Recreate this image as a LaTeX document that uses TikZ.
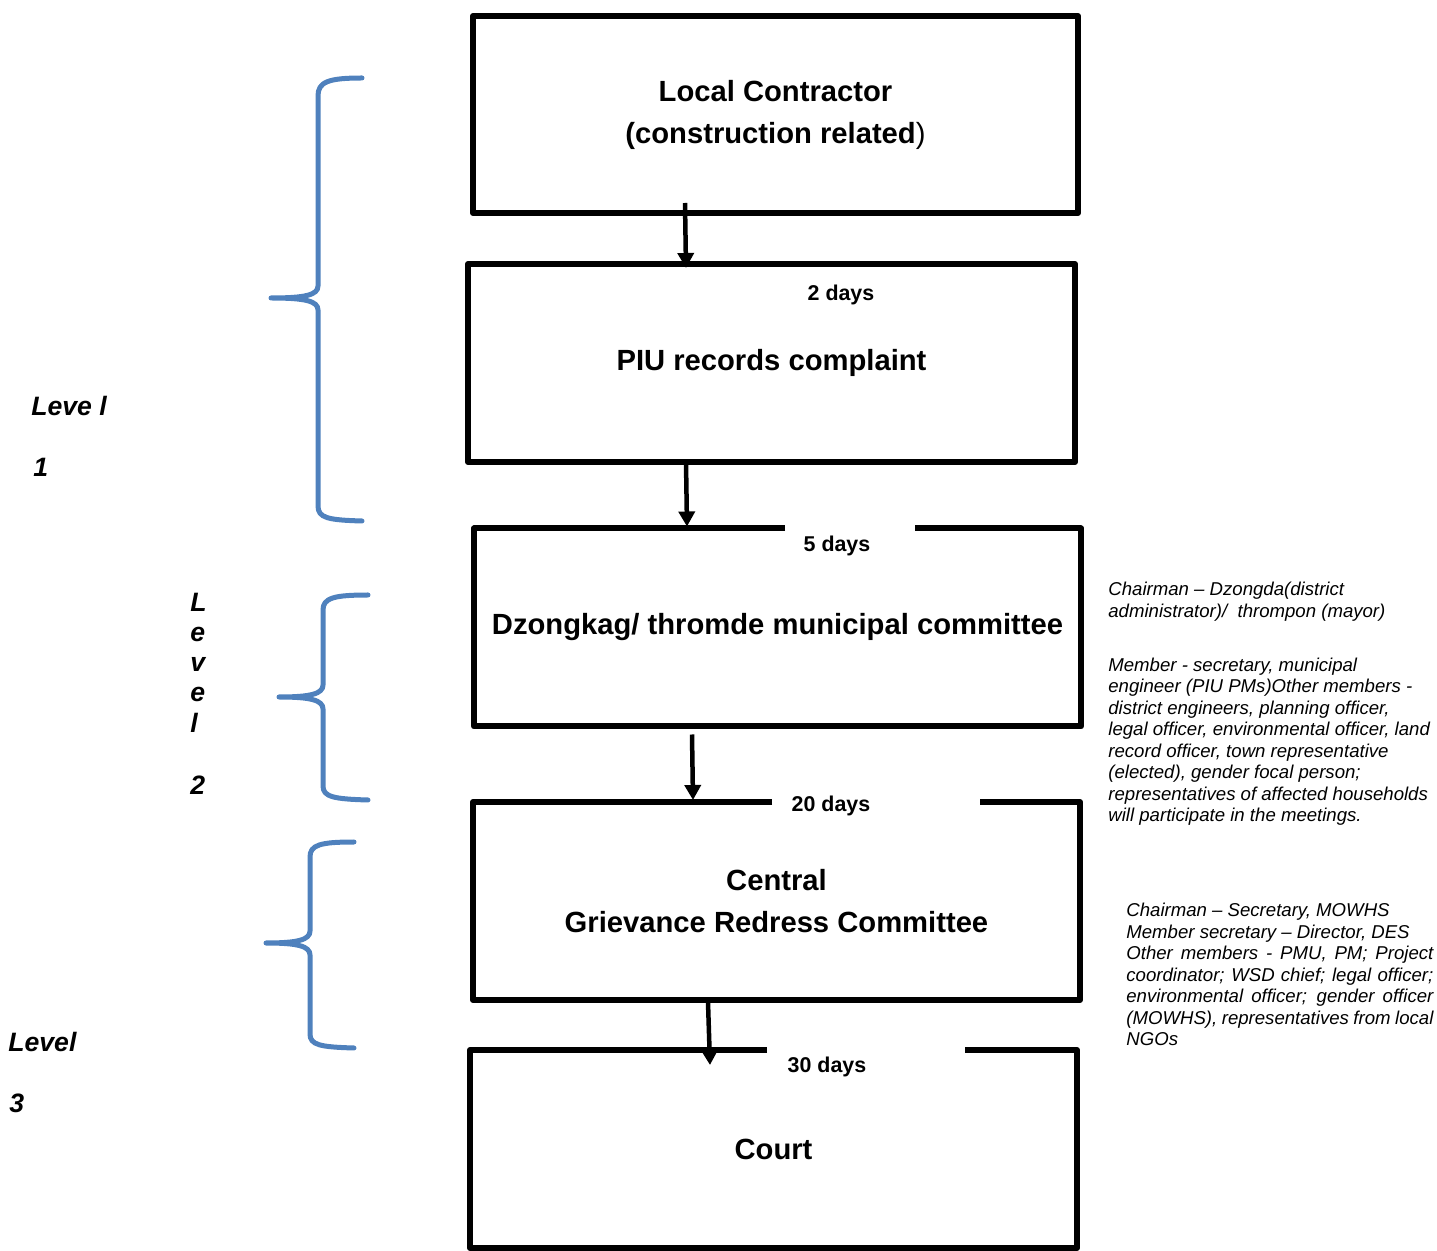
\documentclass[tikz,border=0pt]{standalone}
\usepackage{fontspec}
\setmainfont{Liberation Sans}
\usetikzlibrary{arrows.meta,calc}
\definecolor{braceblue}{HTML}{4F81BD}
\begin{document}
\begin{tikzpicture}[x=0.5pt,y=-0.5pt,
  boxline/.style={line width=3pt,line join=round},
  stepbox/.style={inner sep=0pt,outer sep=0pt,minimum width=303.5pt,minimum height=99pt,
    align=center,font=\fontsize{14.6}{21}\selectfont\bfseries},
  daylbl/.style={inner sep=0pt,font=\fontsize{10.7}{12}\selectfont\bfseries},
  note/.style={inner sep=0pt,anchor=north west,align=left,font=\fontsize{9.3}{10.75}\selectfont\itshape},
  lvl/.style={inner sep=0pt,anchor=base west,font=\fontsize{13.3}{15}\selectfont\bfseries\itshape},
  brace/.style={draw=braceblue,line width=2.5pt,line cap=round,line join=round},
  arr/.style={line width=2.25pt,-{Triangle[width=8pt,length=7.5pt]}}]
\useasboundingbox (0,0) rectangle (1437,1251);

% boxes
\node[stepbox,draw,boxline,minimum width=302.5pt,minimum height=98.5pt] (b1) at (775.5,114.5)
  {Local Contractor\\(construction related{\mdseries )}};
\node[stepbox,draw,boxline] (b2) at (771.5,363) {PIU records complaint};
\node[stepbox] (b3) at (777.5,627.5) {Dzongkag/ thromde municipal committee};
\node[stepbox] (b4) at (776.5,901) {Central\\Grievance Redress Committee};
\node[stepbox] (b5) at (773.5,1149) {Court};

\draw[boxline] ([xshift=155.5pt]b3.north west) -- (b3.north west) -- (b3.south west)
  -- (b3.south east) -- (b3.north east) -- ([xshift=220.5pt]b3.north west);
\draw[boxline] ([xshift=149.5pt]b4.north west) -- (b4.north west) -- (b4.south west)
  -- (b4.south east) -- (b4.north east) -- ([xshift=253.5pt]b4.north west);
\draw[boxline] ([xshift=148.5pt]b5.north west) -- (b5.north west) -- (b5.south west)
  -- (b5.south east) -- (b5.north east) -- ([xshift=247.5pt]b5.north west);

% day labels
\node[daylbl] (d2) at (841,295) {2 days};
\node[daylbl] (d5) at (837,546) {5 days};
\node[daylbl] (d20) at (831,806) {20 days};
\node[daylbl] (d30) at (827,1067) {30 days};

% arrows
\draw[arr] ([xshift=-45.25pt,yshift=5pt]b1.south) -- ([xshift=-42.75pt,yshift=-2pt]b2.north);
\draw[arr] ([xshift=-42.75pt]b2.south) -- ([xshift=-45.25pt,yshift=1pt]b3.north);
\draw[arr] ([xshift=-42.75pt,yshift=-4pt]b3.south) -- ([xshift=-41.75pt,yshift=1pt]b4.north);
\draw[arr] ([xshift=-34.25pt,yshift=-1pt]b4.south) -- ([xshift=-31.75pt,yshift=-7.5pt]b5.north);

% notes
\node[note] (n1) at (1108,582) {Chairman -- Dzongda(district\\administrator)/\ \ thrompon (mayor)\\[16.25pt]
Member - secretary, municipal\\engineer (PIU PMs)Other members -\\district engineers, planning officer,\\
legal officer, environmental officer, land\\record officer, town representative\\
(elected), gender focal person;\\representatives of affected households\\will participate in the meetings.};
\node[note] (n2) at (1126,903) {Chairman -- Secretary, MOWHS\\Member secretary -- Director, DES\\
\makebox[153.5pt][s]{Other members - PMU, PM; Project}\\
\makebox[153.5pt][s]{coordinator; WSD chief; legal officer;}\\
\makebox[153.5pt][s]{environmental officer; gender officer}\\
\makebox[153.5pt][s]{(MOWHS), representatives from local}\\NGOs};

% level labels
\node[lvl] (l1a) at (31,415.5) {Leve l};
\node[lvl] (l1b) at (33,476.5) {1};
\node[lvl,anchor=north west,align=left,font=\fontsize{13.3}{15.1}\selectfont\bfseries\itshape] (l2) at (190,592.5)
  {L\\e\\v\\e\\l\\[16.4pt]2};
\node[lvl] (l3a) at (8,1051.5) {Level};
\node[lvl] (l3b) at (9,1112.5) {3};

% braces
\draw[brace] (362,78) .. controls (328,78) and (318,82) .. (318,96) -- (318,286)
  .. controls (318,295) and (305,298) .. (271,298) .. controls (305,298) and (318,301) .. (318,310)
  -- (318,506) .. controls (318,518) and (328,520) .. (362,521);
\draw[brace] (368,595) .. controls (334,595) and (323,598) .. (323,610) -- (323,685)
  .. controls (323,694) and (310,697) .. (279,697) .. controls (310,697) and (323,700) .. (323,709)
  -- (323,786) .. controls (323,797) and (334,799) .. (368,800);
\draw[brace] (354,842) .. controls (320,842) and (310,845) .. (310,857) -- (310,931)
  .. controls (310,940) and (297,943) .. (266,943) .. controls (297,943) and (310,946) .. (310,955)
  -- (310,1034) .. controls (310,1045) and (320,1047) .. (354,1048);
\end{tikzpicture}
\end{document}
